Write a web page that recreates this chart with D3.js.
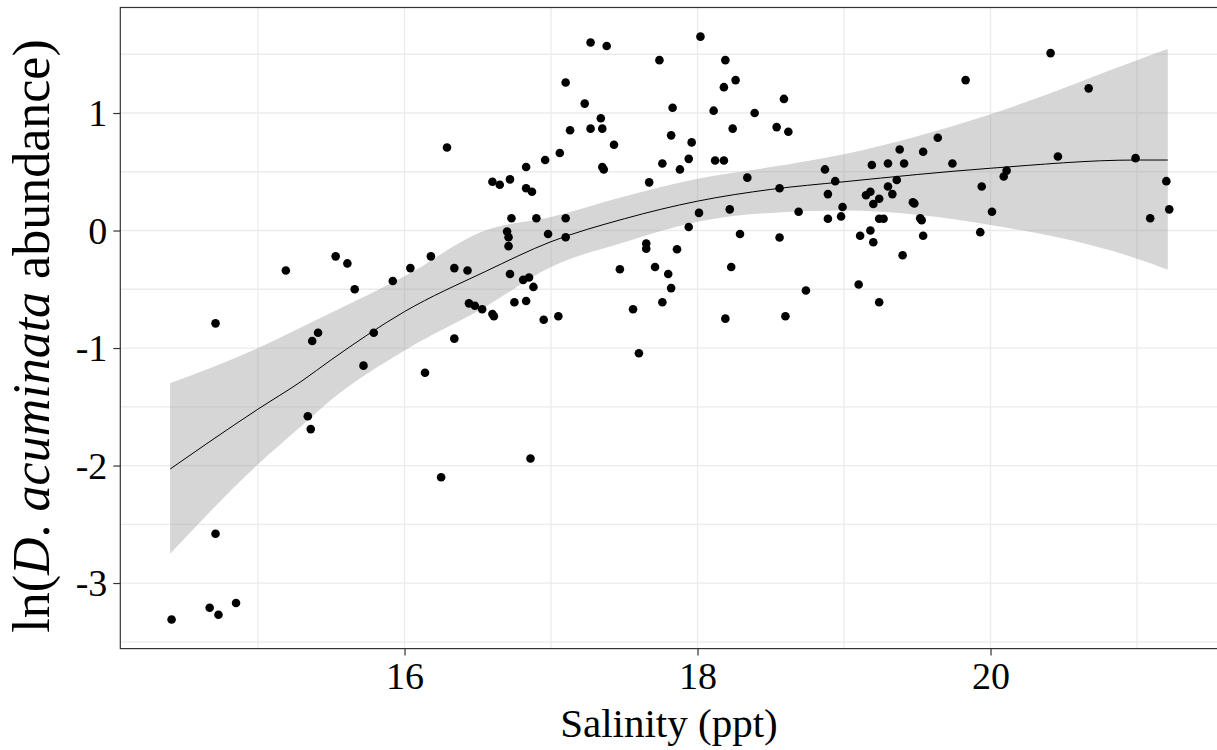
<!DOCTYPE html>
<html>
<head>
<meta charset="utf-8">
<script src="https://d3js.org/d3.v7.min.js"></script>
<style>
  body { margin: 0; background: #fff; }
  svg text { font-family: "Liberation Serif", "Times New Roman", serif; }
</style>
</head>
<body>
<svg id="chart" width="1217" height="750"></svg>
<script>
// observed samples
var salinity = [16.29,15.19,15.53,15.61,15.66,15.92,16.04,16.18,16.34,16.43,16.44,16.48,16.53,16.60,16.61,
  14.71,15.41,15.37,15.79,15.72,16.34,16.14,15.34,15.36,16.25,14.71,14.67,14.73,14.85,14.41,
  17.60,16.86,17.27,17.38,17.74,18.02,18.19,17.10,17.23,17.34,17.13,17.27,17.35,17.43,17.06,
  16.96,16.83,17.35,17.36,16.60,16.65,16.72,16.83,16.87,16.73,16.90,17.10,16.70,16.71,16.71,
  16.98,17.10,16.72,16.81,16.85,16.88,16.75,16.83,16.95,17.05,17.67,17.76,17.83,17.82,17.88,
  17.94,17.96,18.11,18.12,18.18,18.18,18.26,18.24,18.39,18.59,18.54,18.62,18.34,18.56,18.87,
  18.94,18.89,18.99,18.98,18.89,18.69,18.22,18.01,17.94,18.29,18.56,17.65,17.65,17.86,17.47,
  17.71,17.80,17.82,18.23,18.74,17.56,17.76,18.19,18.60,20.41,19.83,20.67,19.64,19.38,19.54,
  19.19,19.30,19.41,19.74,20.46,20.99,19.36,19.30,19.33,19.15,19.18,19.20,19.24,19.47,19.48,
  19.24,19.27,19.52,19.53,19.11,19.18,19.20,19.54,19.40,19.10,19.24,19.94,20.09,20.11,20.01,
  19.93,21.20,21.22,21.09];
var abundance = [0.706,-0.34,-0.22,-0.28,-0.50,-0.43,-0.32,-0.22,-0.32,-0.34,-0.62,-0.64,-0.67,-0.71,-0.73,
  -0.79,-0.87,-0.94,-0.87,-1.15,-0.92,-1.21,-1.58,-1.69,-2.10,-2.58,-3.21,-3.27,-3.17,-3.31,
  -1.045,-1.94,1.60,1.57,1.45,1.65,1.45,1.26,1.08,0.955,0.853,0.867,0.867,0.73,0.66,
  0.60,0.54,0.54,0.52,0.415,0.39,0.435,0.36,0.33,0.104,0.104,0.104,-0.008,-0.057,-0.133,
  -0.03,-0.057,-0.37,-0.42,-0.40,-0.48,-0.61,-0.60,-0.76,-0.73,0.41,0.57,1.045,0.81,0.52,
  0.61,0.75,1.02,0.596,0.596,1.22,1.28,0.867,1.0,1.12,0.88,0.84,0.45,0.36,0.52,
  0.42,0.31,0.20,0.12,0.10,0.16,0.18,0.15,0.03,-0.03,-0.06,-0.11,-0.155,-0.16,-0.33,
  -0.31,-0.37,-0.49,-0.31,-0.51,-0.67,-0.61,-0.75,-0.73,1.51,1.28,1.21,0.79,0.69,0.67,
  0.557,0.57,0.57,0.57,0.63,0.616,0.43,0.375,0.31,0.30,0.33,0.226,0.27,0.24,0.23,
  0.10,0.10,0.104,0.087,-0.045,0.0,-0.10,-0.045,-0.21,-0.46,-0.61,0.375,0.46,0.51,0.16,
  -0.014,0.42,0.18,0.104];

// smoother and its confidence band
var fitX     = [14.40, 15.0, 15.3, 15.5, 16.0, 16.55, 17.0, 17.5, 18.0, 18.5, 19.0, 20.0, 21.0, 21.21];
var fitY     = [-2.03, -1.52, -1.28, -1.10, -0.69, -0.35, -0.095, 0.10, 0.25, 0.35, 0.415, 0.53, 0.60, 0.60];
var fitUpper = [-1.30, -1.00, -0.82, -0.70, -0.39, 0.00, 0.115, 0.29, 0.44, 0.54, 0.65, 0.99, 1.45, 1.545];
var fitLower = [-2.75, -1.99, -1.66, -1.44, -1.02, -0.65, -0.31, -0.10, 0.075, 0.15, 0.17, 0.047, -0.24, -0.333];

var xTicks = [16, 18, 20];
var xMinor = [15, 17, 19, 21];
var yTicks = [-3, -2, -1, 0, 1];
var yMinor = [-3.5, -2.5, -1.5, -0.5, 0.5, 1.5];

var svg = d3.select('#chart');
var pLeft = 120.3, pRight = 1217.6, pTop = 7.5, pBottom = 648.6;

var x = d3.scaleLinear().domain([14.06, 21.55]).range([pLeft, pRight]);
var y = d3.scaleLinear().domain([-3.558, 1.898]).range([pBottom, pTop]);

var panel = svg.append('g');

// grid
panel.selectAll('.vg').data(xTicks.concat(xMinor)).enter().append('line')
  .attr('x1', function(d) { return x(d); }).attr('x2', function(d) { return x(d); })
  .attr('y1', pTop).attr('y2', pBottom)
  .attr('stroke', '#ebebeb').attr('stroke-width', 1.3);
panel.selectAll('.hg').data(yTicks.concat(yMinor)).enter().append('line')
  .attr('y1', function(d) { return y(d); }).attr('y2', function(d) { return y(d); })
  .attr('x1', pLeft).attr('x2', pRight)
  .attr('stroke', '#ebebeb').attr('stroke-width', 1.3);

var fit = fitX.map(function(v, i) { return { x: v, y: fitY[i], lo: fitLower[i], hi: fitUpper[i] }; });

panel.append('path').datum(fit)
  .attr('fill', '#999999').attr('fill-opacity', 0.4)
  .attr('d', d3.area().curve(d3.curveMonotoneX)
    .x(function(d) { return x(d.x); })
    .y0(function(d) { return y(d.lo); })
    .y1(function(d) { return y(d.hi); }));

panel.append('path').datum(fit)
  .attr('fill', 'none').attr('stroke', '#000').attr('stroke-width', 1)
  .attr('d', d3.line().curve(d3.curveMonotoneX)
    .x(function(d) { return x(d.x); })
    .y(function(d) { return y(d.y); }));

panel.selectAll('circle').data(salinity).enter().append('circle')
  .attr('cx', function(d) { return x(d); })
  .attr('cy', function(d, i) { return y(abundance[i]); })
  .attr('r', 4.3).attr('fill', '#000');

// border
svg.append('rect').attr('x', pLeft).attr('y', pTop)
  .attr('width', pRight - pLeft).attr('height', pBottom - pTop)
  .attr('fill', 'none').attr('stroke', '#333').attr('stroke-width', 1.2);

// axes (plain hyphen for negatives, like R)
var plain = function(d) { return String(d); };
var xAxis = svg.append('g').attr('transform', 'translate(0,' + pBottom + ')')
  .call(d3.axisBottom(x).tickValues(xTicks).tickSize(7).tickPadding(4).tickFormat(plain));
var yAxis = svg.append('g').attr('transform', 'translate(' + pLeft + ',0)')
  .call(d3.axisLeft(y).tickValues(yTicks).tickSize(7).tickPadding(6).tickFormat(plain));
[xAxis, yAxis].forEach(function(a) {
  a.select('.domain').remove();
  a.selectAll('line').attr('stroke', '#333').attr('stroke-width', 1.2);
  a.selectAll('text').attr('fill', '#000').style('font-size', '38px')
    .style('font-family', '"Liberation Serif", serif');
});
xAxis.selectAll('text').attr('dy', '0.78em');
yAxis.selectAll('text').attr('dy', '0.34em');

svg.append('text').attr('x', (pLeft + pRight) / 2).attr('y', 737)
  .attr('text-anchor', 'middle').style('font-size', '41px')
  .text('Salinity (ppt)');

var yt = svg.append('text')
  .attr('transform', 'translate(49,336) rotate(-90)')
  .attr('text-anchor', 'middle').style('font-size', '52px');
yt.append('tspan').text('ln(');
yt.append('tspan').style('font-style', 'italic').text('D');
yt.append('tspan').text('. ');
yt.append('tspan').style('font-style', 'italic').text('acuminata');
yt.append('tspan').text(' abundance)');
</script>
</body>
</html>
